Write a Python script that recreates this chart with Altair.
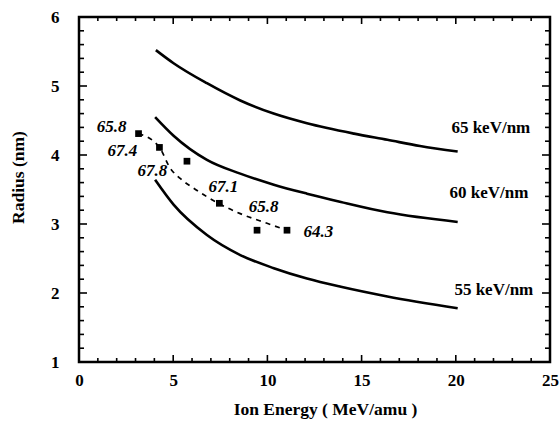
import altair as alt
import pandas as pd

# ---- data ----
c65_x = [4.08, 5.02, 6.79, 8.56, 10.33, 12.1, 14.6, 16.37, 18.1, 20.1]
c65_y = [5.52, 5.33, 5.04, 4.79, 4.60, 4.46, 4.31, 4.22, 4.13, 4.05]
c60_x = [4.04, 5.02, 6.79, 8.56, 10.34, 12.1, 13.9, 16.37, 20.1]
c60_y = [4.55, 4.28, 3.93, 3.73, 3.57, 3.44, 3.32, 3.17, 3.03]
c55_x = [4.04, 5.02, 6.79, 8.56, 10.34, 12.1, 13.9, 16.37, 20.1]
c55_y = [3.64, 3.28, 2.84, 2.55, 2.36, 2.21, 2.09, 1.95, 1.78]

fit_x = [3.16, 4.27, 4.84, 5.37, 6.08, 7.40, 8.56, 9.98, 11.04]
fit_y = [4.31, 4.11, 3.81, 3.66, 3.52, 3.30, 3.15, 3.01, 2.91]

pt_x = [3.16, 4.27, 5.73, 7.45, 9.45, 11.04]
pt_y = [4.31, 4.11, 3.91, 3.30, 2.91, 2.91]

lab_text = ["65.8", "67.4", "67.8", "67.1", "65.8", "64.3"]
lab_x = [1.73, 2.30, 3.90, 7.66, 9.80, 12.70]
lab_y = [4.41, 4.06, 3.77, 3.54, 3.25, 2.88]

curve_names = ["65 keV/nm", "60 keV/nm", "55 keV/nm"]
curve_lab_x = [21.86, 21.76, 22.02]
curve_lab_y = [4.39, 3.45, 2.04]

x_major = [0, 5, 10, 15, 20, 25]
x_minor = list(range(0, 26))
y_major = [1, 2, 3, 4, 5, 6]
y_minor = [round(1 + 0.2 * i, 1) for i in range(26)]

W, H = 471, 345
FONT = "Liberation Serif"

rows = []
for name, xs_, ys_ in [("65", c65_x, c65_y), ("60", c60_x, c60_y), ("55", c55_x, c55_y)]:
    for i, (a, b) in enumerate(zip(xs_, ys_)):
        rows.append({"curve": name, "order": i, "x": a, "y": b})
curves = pd.DataFrame(rows)
fit = pd.DataFrame({"x": fit_x, "y": fit_y, "order": range(len(fit_x))})
pts = pd.DataFrame({"x": pt_x, "y": pt_y})
labs = pd.DataFrame({"x": lab_x, "y": lab_y, "t": lab_text})
clabs = pd.DataFrame({"x": curve_lab_x, "y": curve_lab_y, "t": curve_names})

# inward tick marks of the frame, built from the tick value lists
px_per_y = H / 5.0
px_per_x = W / 25.0
tick_rows = []
tid = 0
for v in x_minor:
    ln = (7 if v in x_major else 4) / px_per_y
    for (y0, y1) in [(1.0, 1.0 + ln), (6.0, 6.0 - ln)]:
        tick_rows.append({"id": tid, "k": 0, "x": v, "y": y0})
        tick_rows.append({"id": tid, "k": 1, "x": v, "y": y1})
        tid += 1
for v in y_minor:
    ln = (8 if v in y_major else 5) / px_per_x
    for (x0, x1) in [(0.0, ln), (25.0, 25.0 - ln)]:
        tick_rows.append({"id": tid, "k": 0, "x": x0, "y": v})
        tick_rows.append({"id": tid, "k": 1, "x": x1, "y": v})
        tid += 1
ticks = pd.DataFrame(tick_rows)

xs = alt.Scale(domain=[0, 25], nice=False, zero=False)
ys = alt.Scale(domain=[1, 6], nice=False, zero=False)

x_axis = alt.Axis(
    orient="bottom", values=x_major, ticks=False, domain=False, grid=False, format="d",
    labelFont=FONT, labelFontSize=17, labelFontWeight="bold", labelColor="black",
    labelPadding=10, labelFlush=False,
    title="Ion Energy ( MeV/amu )", titleFont=FONT, titleFontSize=17.5,
    titleFontWeight="bold", titleColor="black", titleX=246, titleY=47,
    titleBaseline="middle", titleAlign="center")
y_axis = alt.Axis(
    orient="left", values=y_major, ticks=False, domain=False, grid=False, format="d",
    labelFont=FONT, labelFontSize=17, labelFontWeight="bold", labelColor="black",
    labelPadding=20, labelFlush=False,
    title="Radius (nm)", titleFont=FONT, titleFontSize=17.5,
    titleFontWeight="bold", titleColor="black", titleX=-61, titleY=160,
    titleBaseline="middle", titleAlign="center")

# tick layer first: it carries the axes (so nothing is merged away)
l_ticks = alt.Chart(ticks).mark_line(color="black", strokeWidth=1.6).encode(
    x=alt.X("x:Q", scale=xs, axis=x_axis),
    y=alt.Y("y:Q", scale=ys, axis=y_axis),
    detail="id:N", order="k:Q")

l_curves = alt.Chart(curves).mark_line(color="black", strokeWidth=2.6, interpolate="monotone").encode(
    x=alt.X("x:Q", scale=xs, axis=None),
    y=alt.Y("y:Q", scale=ys, axis=None),
    detail="curve:N", order="order:Q")

l_fit = alt.Chart(fit).mark_line(color="black", strokeWidth=1.7, strokeDash=[5, 5],
                                 interpolate="monotone").encode(
    x=alt.X("x:Q", scale=xs, axis=None),
    y=alt.Y("y:Q", scale=ys, axis=None),
    order="order:Q")

l_pts = alt.Chart(pts).mark_square(color="black", opacity=1, size=45).encode(
    x=alt.X("x:Q", scale=xs, axis=None),
    y=alt.Y("y:Q", scale=ys, axis=None))

l_labs = alt.Chart(labs).mark_text(font=FONT, fontSize=17, fontStyle="italic",
                                   fontWeight="bold", color="black").encode(
    x=alt.X("x:Q", scale=xs, axis=None),
    y=alt.Y("y:Q", scale=ys, axis=None),
    text="t:N")

l_clabs = alt.Chart(clabs).mark_text(font=FONT, fontSize=17, fontWeight="bold",
                                     color="black").encode(
    x=alt.X("x:Q", scale=xs, axis=None),
    y=alt.Y("y:Q", scale=ys, axis=None),
    text="t:N")

chart = alt.layer(l_ticks, l_curves, l_fit, l_pts, l_labs, l_clabs).resolve_axis(
    x="independent", y="independent"
).properties(
    width=W, height=H,
    autosize=alt.AutoSizeParams(type="none"),
    padding={"left": 79, "top": 17, "right": 10, "bottom": 61},
    background="white",
).configure_view(stroke="black", strokeWidth=2.5)

chart.save("out.html", embed_options={"renderer": "svg", "actions": False})
